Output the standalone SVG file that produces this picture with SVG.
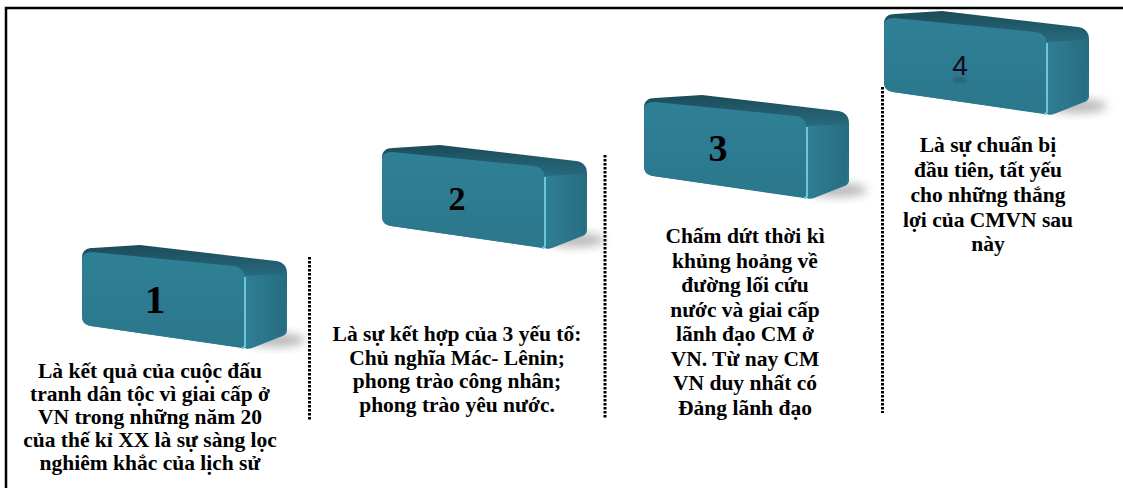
<svg xmlns="http://www.w3.org/2000/svg" width="1123" height="488" viewBox="0 0 1123 488">
<style>
.frame{fill:none;stroke:#000;stroke-width:2.5}
.dot{fill:none;stroke:#000;stroke-width:3;stroke-dasharray:2.5 1.5}
.txt{font-family:"Liberation Serif","Times New Roman",serif;font-weight:bold;font-size:21.5px;fill:#000;text-anchor:middle}
.num{font-family:"Liberation Serif","Times New Roman",serif;font-weight:bold;fill:#000;text-anchor:middle}
</style>
<defs>
<linearGradient id="gOuter" x1="0" y1="0" x2="0" y2="1">
<stop offset="0" stop-color="#1c4b59"/>
<stop offset="0.3" stop-color="#276b7f"/>
<stop offset="1" stop-color="#2c788c"/>
</linearGradient>
<linearGradient id="gFront" x1="0" y1="0" x2="0" y2="1">
<stop offset="0" stop-color="#2f8096"/>
<stop offset="1" stop-color="#2b778c"/>
</linearGradient>
<linearGradient id="gSide" x1="0" y1="0" x2="1" y2="0">
<stop offset="0" stop-color="#2f7f94"/>
<stop offset="1" stop-color="#276d80"/>
</linearGradient>
<filter id="blur" x="-50%" y="-50%" width="200%" height="200%">
<feGaussianBlur stdDeviation="5"/>
</filter>
<filter id="blur2" x="-50%" y="-50%" width="200%" height="200%">
<feGaussianBlur stdDeviation="1.5"/>
</filter>
<g id="box">
<ellipse cx="195" cy="96" rx="30" ry="7" fill="#808080" opacity="0.55" filter="url(#blur)"/>
<path d="M2,14 C2,7 6,4 13,4 L60,1 L196,17 C203,18 207,22 207,29 L207,86 C207,90 204,92 200,93 L172,104 C169,105 166,105 165,104 L11,82 C5,81 2,78 2,72 Z" fill="url(#gOuter)"/>
<path d="M165,32 L205,30 L205,86 C205,89 203,91 199,92 L170,103 L165,103 Z" fill="url(#gSide)"/>
<path d="M2,17 C2,11 5,8 12,8 L154,22 C161,23 165,28 165,35 L165,100 C165,103 164,104 162,104 L11,82 C5,81 2,78 2,72 Z" fill="url(#gFront)"/>
<path d="M165,33 L165,101 C165,103 164,104 162,104" fill="none" stroke="#6cc6dc" stroke-width="2"/>
</g>
</defs>
<rect x="0" y="0" width="1123" height="488" fill="#fff"/>
<path class="frame" d="M6,488 L6,8 L1123,8"/>
<g id="connectors">
<line class="dot" x1="309.5" y1="257" x2="309.5" y2="420"/>
<line class="dot" x1="605" y1="155" x2="605" y2="418"/>
<line class="dot" x1="882.5" y1="87" x2="882.5" y2="413"/>
</g>
<g id="node1">
<use href="#box" transform="translate(80,244)"/>
<text class="num" x="155" y="313" font-size="41">1</text>
<text class="txt" x="150"><tspan x="150" y="378">Là kết quả của cuộc đấu</tspan><tspan x="150" y="401">tranh dân tộc vì giai cấp ở</tspan><tspan x="150" y="424">VN trong những năm 20</tspan><tspan x="150" y="447">của thế kỉ XX là sự sàng lọc</tspan><tspan x="150" y="470">nghiêm khắc của lịch sử</tspan></text>
</g>
<g id="node2">
<use href="#box" transform="translate(380,144)"/>
<text class="num" x="457" y="210" font-size="34">2</text>
<text class="txt" x="457"><tspan x="457" y="341">Là sự kết hợp của 3 yếu tố:</tspan><tspan x="457" y="364.5">Chủ nghĩa Mác- Lênin;</tspan><tspan x="457" y="388">phong trào công nhân;</tspan><tspan x="457" y="411.5">phong trào yêu nước.</tspan></text>
</g>
<g id="node3">
<use href="#box" transform="translate(642,94)"/>
<text class="num" x="718" y="161" font-size="38">3</text>
<text class="txt" x="745"><tspan x="745" y="243">Chấm dứt thời kì</tspan><tspan x="745" y="267.5">khủng hoảng về</tspan><tspan x="745" y="292">đường lối cứu</tspan><tspan x="745" y="316.5">nước và giai cấp</tspan><tspan x="745" y="341">lãnh đạo CM ở</tspan><tspan x="745" y="365.5">VN. Từ nay CM</tspan><tspan x="745" y="390">VN duy nhất có</tspan><tspan x="745" y="414.5">Đảng lãnh đạo</tspan></text>
</g>
<g id="node4">
<use href="#box" transform="translate(882,10)"/>
<rect x="954" y="77" width="12" height="6" fill="#2a1d3a" opacity="0.25" filter="url(#blur2)"/>
<text x="960" y="75" font-family="Liberation Sans, Arial, sans-serif" font-size="28" fill="#140a20" text-anchor="middle">4</text>
<text class="txt" x="988"><tspan x="988" y="152">Là sự chuẩn bị</tspan><tspan x="988" y="177">đầu tiên, tất yếu</tspan><tspan x="988" y="202">cho những thắng</tspan><tspan x="988" y="227">lợi của CMVN sau</tspan><tspan x="988" y="251">này</tspan></text>
</g>
</svg>
